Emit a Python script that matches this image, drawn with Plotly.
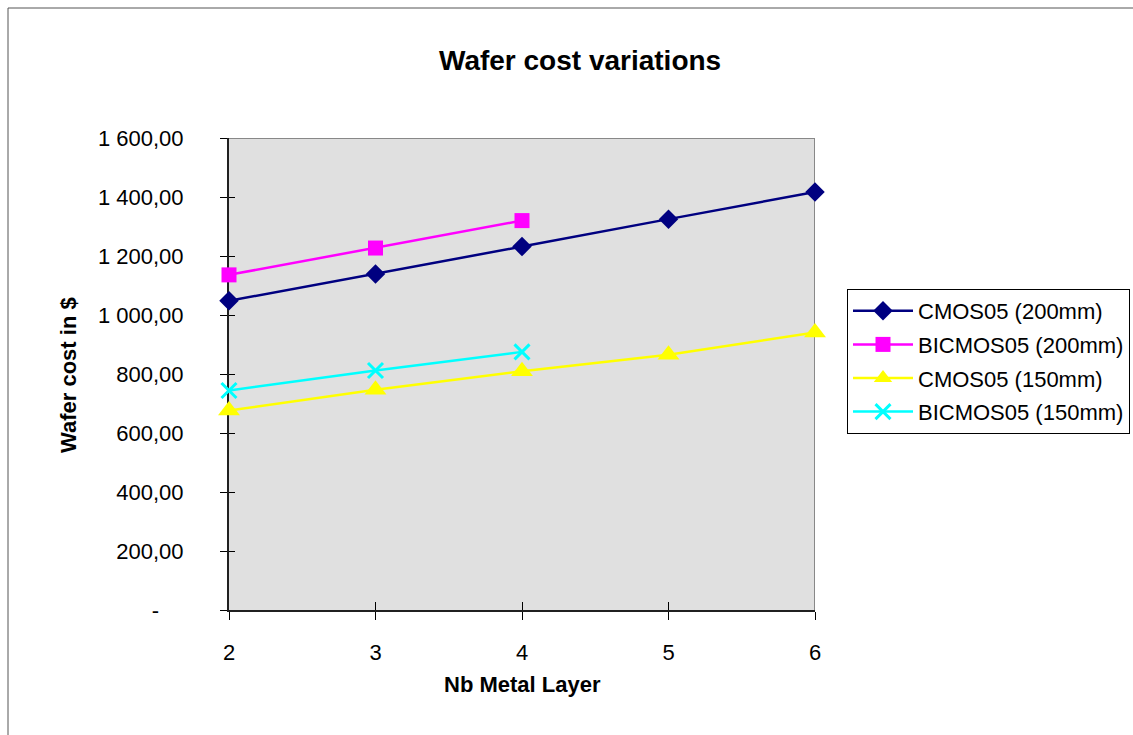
import plotly.graph_objects as go

layers = [2, 3, 4, 5, 6]
cmos_200 = [1048, 1139, 1232, 1325, 1417]
bicmos_200 = [1136, 1227, 1320]
cmos_150 = [676, 747, 809, 865, 941]
bicmos_150 = [744, 812, 875]

y_ticks = [0, 200, 400, 600, 800, 1000, 1200, 1400, 1600]
y_tick_text = ["-\u00a0\u00a0\u00a0\u00a0", "200,00", "400,00", "600,00", "800,00",
               "1\u00a0000,00", "1\u00a0200,00", "1\u00a0400,00", "1\u00a0600,00"]

FONT = "Liberation Sans, Arial, sans-serif"
W, H = 1133, 735
L, R, T, B = 229, 815, 138, 610

def px(x):
    return (x - L) / (R - L)

def py(y):
    return (B - y) / (B - T)

fig = go.Figure()
series = [
    ("CMOS05 (200mm)", layers, cmos_200, "#000080", "diamond", 15, 0),
    ("BICMOS05 (200mm)", layers[:3], bicmos_200, "#FF00FF", "square", 15, 0),
    ("CMOS05 (150mm)", layers, cmos_150, "#FFFF00", "triangle-up", 19, 0),
    ("BICMOS05 (150mm)", layers[:3], bicmos_150, "#00FFFF", "x-thin-open", 15, 3),
]
for i, (name, xs, ys, col, sym, sz, lw) in enumerate(series):
    fig.add_trace(go.Scatter(
        x=xs, y=ys, name=name, mode="lines+markers", legendgroup=f"g{i}",
        line=dict(color=col, width=2.5),
        marker=dict(symbol=sym, size=sz, color=col, line=dict(color=col, width=lw)),
        cliponaxis=False,
    ))

# invisible trace for the inside half of the crossing ticks
fig.add_trace(go.Scatter(x=[2, 6], y=[0, 1600], xaxis="x2", yaxis="y2",
                         mode="markers", marker=dict(opacity=0), showlegend=False, hoverinfo="skip"))

fig.update_layout(
    width=W, height=H,
    margin=dict(l=L, r=W - R, t=T, b=H - B, autoexpand=False),
    paper_bgcolor="white",
    plot_bgcolor="#E0E0E0",
    font=dict(family=FONT, size=22, color="black"),
    showlegend=True,
    legend=dict(
        x=px(847), y=py(289), xanchor="left", yanchor="top",
        bgcolor="white", bordercolor="black", borderwidth=1,
        font=dict(family=FONT, size=22, color="black"),
        itemwidth=60, tracegroupgap=2,
    ),
    xaxis=dict(
        range=[2, 6], tickvals=layers, ticktext=[str(v) for v in layers],
        showgrid=False, zeroline=False, layer="below traces",
        showline=True, linecolor="#202020", linewidth=2,
        ticks="outside", ticklen=8, tickcolor="black", tickwidth=1,
        ticklabelstandoff=14,
        tickfont=dict(family=FONT, size=22),
    ),
    yaxis=dict(
        range=[0, 1600], tickvals=y_ticks, ticktext=y_tick_text,
        showgrid=False, zeroline=False, layer="below traces",
        showline=True, linecolor="#202020", linewidth=2,
        ticks="outside", ticklen=7, tickcolor="black", tickwidth=1,
        ticklabelstandoff=32,
        tickfont=dict(family=FONT, size=22),
    ),
    xaxis2=dict(overlaying="x", range=[2, 6], tickvals=layers, showticklabels=False,
                ticks="inside", ticklen=8, tickcolor="black", showgrid=False, zeroline=False,
                showline=False, side="bottom", layer="below traces"),
    yaxis2=dict(overlaying="y", range=[0, 1600], tickvals=y_ticks, showticklabels=False,
                ticks="inside", ticklen=6, tickcolor="black", showgrid=False, zeroline=False,
                showline=False, side="left", anchor="x2", layer="below traces"),
    shapes=[
        dict(type="rect", xref="paper", yref="paper",
             x0=px(8), y0=py(W + 20), x1=px(W + 20), y1=py(8),
             line=dict(color="#555555", width=1), fillcolor="rgba(0,0,0,0)", layer="below"),
        dict(type="line", xref="x", yref="y", x0=layers[0], x1=layers[-1], y0=y_ticks[-1], y1=y_ticks[-1],
             line=dict(color="#888888", width=2), layer="below"),
        dict(type="line", xref="x", yref="y", x0=layers[-1], x1=layers[-1], y0=y_ticks[0], y1=y_ticks[-1],
             line=dict(color="#888888", width=2), layer="below"),
    ],
    annotations=[
        dict(text="<b>Wafer cost variations</b>", xref="paper", yref="paper",
             x=px(580), y=py(60), xanchor="center", yanchor="middle", showarrow=False,
             font=dict(family=FONT, size=28, color="black")),
        dict(text="<b>Nb Metal Layer</b>", xref="paper", yref="paper",
             x=px(522), y=py(684), xanchor="center", yanchor="middle", showarrow=False,
             font=dict(family=FONT, size=22, color="black")),
        dict(text="<b>Wafer cost in $</b>", xref="paper", yref="paper",
             x=px(68), y=py(375), xanchor="center", yanchor="middle", showarrow=False,
             textangle=-90, font=dict(family=FONT, size=22, color="black")),
    ],
)

fig.write_html("out.html")
